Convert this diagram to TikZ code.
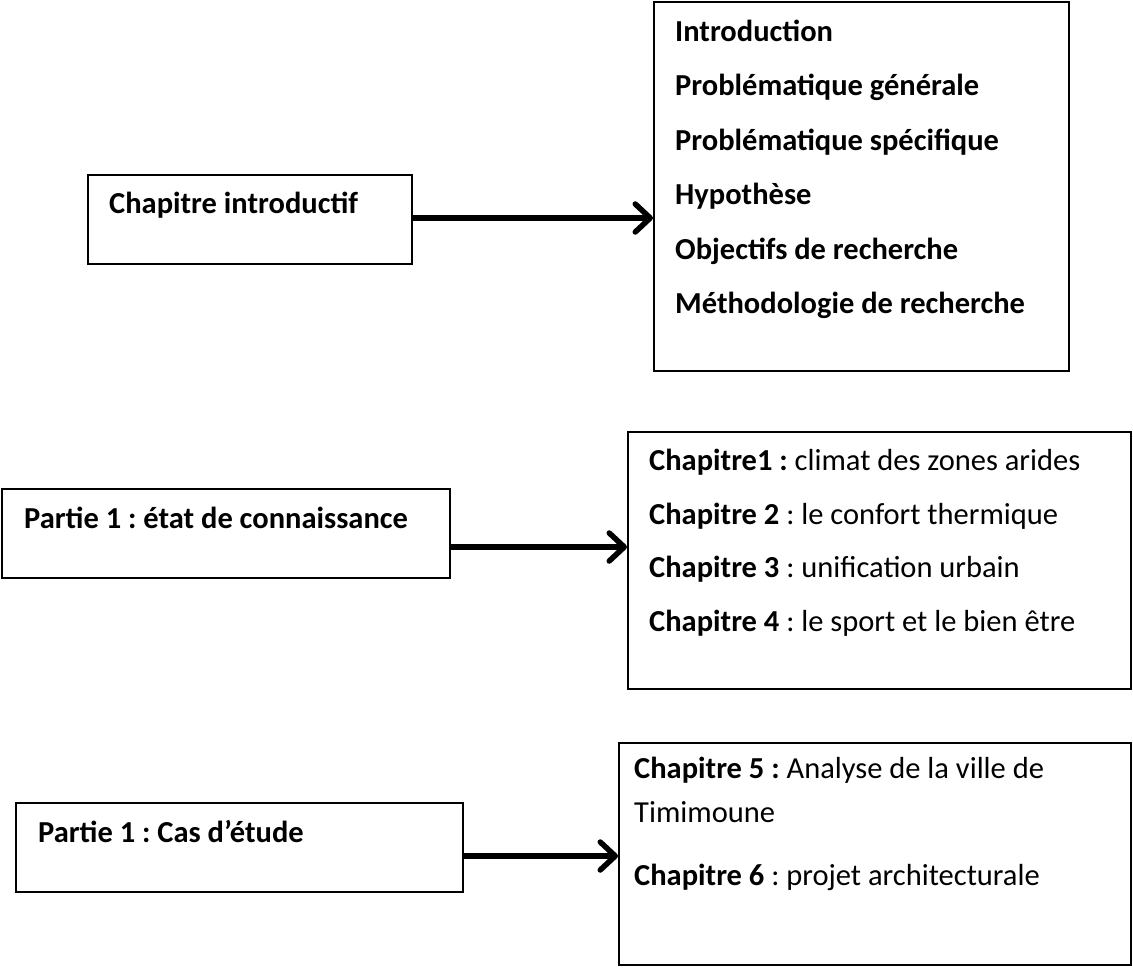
\documentclass[tikz,border=0pt]{standalone}
\usepackage{fontspec}
\setmainfont{Carlito}
\usetikzlibrary{arrows.meta}
\frenchspacing
\begin{document}
\begin{tikzpicture}[x=1pt,y=-1pt,
  box/.style={draw=black,line width=2pt,inner sep=0pt,rectangle},
  line/.style={anchor=base west,inner sep=0pt,font=\fontsize{30.5}{36}\selectfont},
  head/.style={line,font=\fontsize{30.5}{36}\selectfont\bfseries},
  link/.style={line width=5.5pt,-{Straight Barb[length=15pt,width=28pt,round]}}]
\useasboundingbox (0,0) rectangle (1133,967);
\fill[white] (0,0) rectangle (1133,967);

% left column: parts
\node[box,minimum width=324pt,minimum height=89pt] (intro) at (250,219.5) {};
\node[box,minimum width=448pt,minimum height=89pt] (p1) at (226,533.5) {};
\node[box,minimum width=447pt,minimum height=89pt] (p2) at (239.5,847.5) {};

% right column: contents
\node[box,minimum width=415pt,minimum height=369pt] (introlist) at (861.5,186.5) {};
\node[box,minimum width=503pt,minimum height=257pt] (p1list) at (879.5,560.5) {};
\node[box,minimum width=512pt,minimum height=222pt] (p2list) at (875,854) {};

% labels of the parts
\node[head] (tintro) at (109,213) {Chapitre introductif};
\node[head] (tp1) at (24,528) {Partie 1 : état de connaissance};
\node[head] (tp2) at (38,842) {Partie 1 : Cas d’étude};

% introductory chapter contents
\node[head] (i1) at (675,41) {Introduction};
\node[head] (i2) at (675,95.5) {Problématique générale};
\node[head] (i3) at (675,150) {Problématique spécifique};
\node[head] (i4) at (675,204.5) {Hypothèse};
\node[head] (i5) at (675,259) {Objectifs de recherche};
\node[head] (i6) at (675,313.5) {Méthodologie de recherche};

% part 1 chapters
\node[line] (c1) at (649,470) {\textbf{Chapitre1 :} climat des zones arides};
\node[line] (c2) at (649,524) {\textbf{Chapitre 2} : le confort thermique};
\node[line] (c3) at (649,577) {\textbf{Chapitre 3} : unification urbain};
\node[line] (c4) at (649,631) {\textbf{Chapitre 4} : le sport et le bien être};

% case study chapters
\node[line] (c5) at (634,778) {\textbf{Chapitre 5 :} Analyse de la ville de};
\node[line] (c5b) at (634,822) {Timimoune};
\node[line] (c6) at (634,885) {\textbf{Chapitre 6} : projet architecturale};

% connectors
\draw[link] ([yshift=1.5pt]intro.east) -- ([yshift=1.5pt]intro.east -| introlist.west);
\draw[link] ([yshift=-13.5pt]p1.east) -- ([yshift=-13.5pt]p1.east -| p1list.west);
\draw[link] ([yshift=-8.5pt]p2.east) -- ([yshift=-8.5pt]p2.east -| p2list.west);
\end{tikzpicture}
\end{document}
